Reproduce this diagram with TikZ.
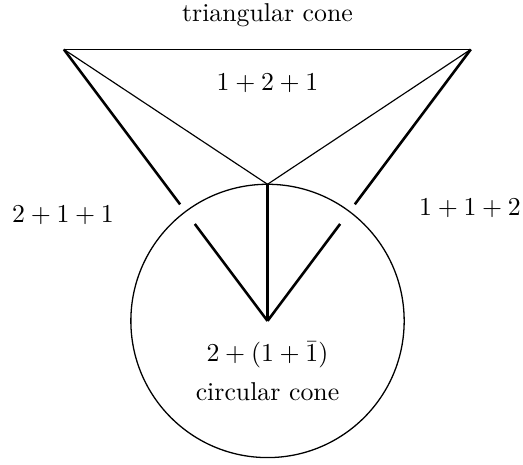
\documentclass[tikz,border=0pt]{standalone}
\usepackage{amsmath,amssymb}
\usepackage{tikz}
\usetikzlibrary{calc}

\begin{document}
\begin{tikzpicture}[every node/.style={font=\normalsize, inner sep=1pt}]
	\useasboundingbox (-3.645,-1.962) rectangle (3.481,4.373);
	\coordinate (o) at (0,0);
	\coordinate (tl) at (-2.775,3.70);
	\coordinate (tr) at (2.77,3.70);
	\coordinate (ap) at (0,1.862);
	% circular cone
	\draw[line width=0.5pt] (o) circle (1.862);
	% triangular cone
	\draw[line width=0.6pt] (tl) -- (tr);
	\draw[line width=0.45pt] (tl) -- (ap) -- (tr);
	% edges, broken where they pass the circle
	\draw[line width=1pt] (tl) -- ($(o)!1.985cm!(tl)$);
	\draw[line width=1pt] ($(o)!1.651cm!(tl)$) -- (o);
	\draw[line width=1pt] (tr) -- ($(o)!1.985cm!(tr)$);
	\draw[line width=1pt] ($(o)!1.651cm!(tr)$) -- (o);
	\draw[line width=1.5pt] (ap) -- (o);
	% labels
	\node (tri) at (0,4.169) {triangular cone};
	\node (top) at (0,3.243) {$1+2+1$};
	\node (lft) at (-2.786,1.444) {$2+1+1$};
	\node (rgt) at (2.759,1.540) {$1+1+2$};
	\node (ctr) at (0,-0.463) {$2+(1+\bar{1})$};
	\node (cir) at (0,-0.967) {circular cone};
\end{tikzpicture}
\end{document}
